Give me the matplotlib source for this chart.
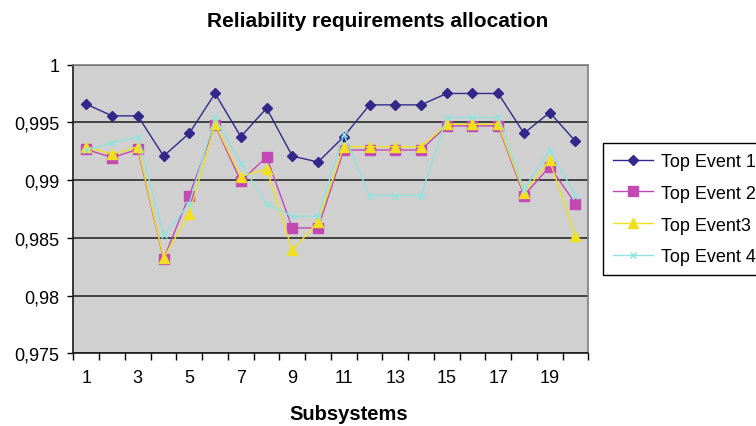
import matplotlib
matplotlib.use('Agg')
import matplotlib.pyplot as plt
from matplotlib.ticker import FixedLocator, FuncFormatter

plt.rcParams['font.family'] = ['Liberation Sans', 'DejaVu Sans']

# values
subsystems = list(range(1, 21))
top_event_1 = [0.99658, 0.99557, 0.99557, 0.99209, 0.99406, 0.99751, 0.99377, 0.99623, 0.99209, 0.99157,
               0.99377, 0.99652, 0.99652, 0.99652, 0.99751, 0.99751, 0.99751, 0.99406, 0.99586, 0.99337]
top_event_2 = [0.99267, 0.99195, 0.99267, 0.98317, 0.98867, 0.99476, 0.98991, 0.99200, 0.98586, 0.98586,
               0.99261, 0.99261, 0.99261, 0.99261, 0.99470, 0.99470, 0.99470, 0.98867, 0.99117, 0.98797]
top_event_3 = [0.99290, 0.99223, 0.99290, 0.98325, 0.98710, 0.99484, 0.99030, 0.99100, 0.98391, 0.98638,
               0.99290, 0.99290, 0.99290, 0.99290, 0.99484, 0.99484, 0.99484, 0.98890, 0.99171, 0.98513]
top_event_4 = [0.99261, 0.99325, 0.99377, 0.98522, 0.98797, 0.99543, 0.99145, 0.98797, 0.98687, 0.98687,
               0.99397, 0.98867, 0.98867, 0.98867, 0.99543, 0.99543, 0.99543, 0.98919, 0.99261, 0.98867]
y_ticks = [0.975, 0.98, 0.985, 0.99, 0.995, 1.0]

fig = plt.figure(figsize=(7.56, 4.27), dpi=100)
ax = fig.add_axes([0.0972, 0.1702, 0.681, 0.6759])
ax.set_facecolor('#d0d0d0')

series = [
    ('Top Event 1', top_event_1, '#33288a', 'D', 5.5),
    ('Top Event 2', top_event_2, '#c448b4', 's', 6.5),
    ('Top Event3', top_event_3, '#f0e020', '^', 7.5),
    ('Top Event 4', top_event_4, '#8ee4e0', 'x', 5),
]
for label, vals, color, marker, ms in series:
    ax.plot(subsystems, vals, color=color, lw=1.0, marker=marker, ms=ms,
            mfc=color, mec=color, mew=1.0, label=label, zorder=3)

ax.set_xlim(0.5, 20.5)
ax.set_ylim(0.975, 1.0)
ax.set_yticks(y_ticks)
ax.yaxis.set_major_formatter(FuncFormatter(lambda v, p: f'{v:g}'.replace('.', ',')))
ax.yaxis.grid(True, color='#2a2a2a', lw=1.2)
ax.set_axisbelow(True)

# tick marks between categories, labels on every other category
ax.xaxis.set_major_locator(FixedLocator([i + 0.5 for i in range(0, 21)]))
ax.xaxis.set_major_formatter(FuncFormatter(lambda v, p: ''))
ax.xaxis.set_minor_locator(FixedLocator(subsystems[::2]))
ax.xaxis.set_minor_formatter(FuncFormatter(lambda v, p: f'{v:g}'))
ax.tick_params(axis='x', which='major', length=5, width=1, direction='out')
ax.tick_params(axis='x', which='minor', length=0, pad=11, labelsize=13)
ax.tick_params(axis='y', length=4, width=1, pad=6, labelsize=13)

for side in ['left', 'bottom']:
    ax.spines[side].set_color('#1a1a1a')
    ax.spines[side].set_linewidth(1.2)
for side in ['top', 'right']:
    ax.spines[side].set_color('#808080')
    ax.spines[side].set_linewidth(1.2)

fig.text(0.5, 0.9368, 'Reliability requirements allocation', ha='center', va='baseline',
         fontsize=15, fontweight='bold')
fig.text(0.461, 0.0164, 'Subsystems', ha='center', va='baseline', fontsize=14.5, fontweight='bold')

leg = ax.legend(loc='upper left', bbox_to_anchor=(0.7976, 0.6628), bbox_transform=fig.transFigure,
                fontsize=13, frameon=True, fancybox=False, edgecolor='black', framealpha=1,
                borderaxespad=0, borderpad=0.55, labelspacing=0.82, handlelength=2.2,
                handletextpad=0.45)
leg.get_frame().set_linewidth(1.0)

fig.savefig('out.png', dpi=100)
